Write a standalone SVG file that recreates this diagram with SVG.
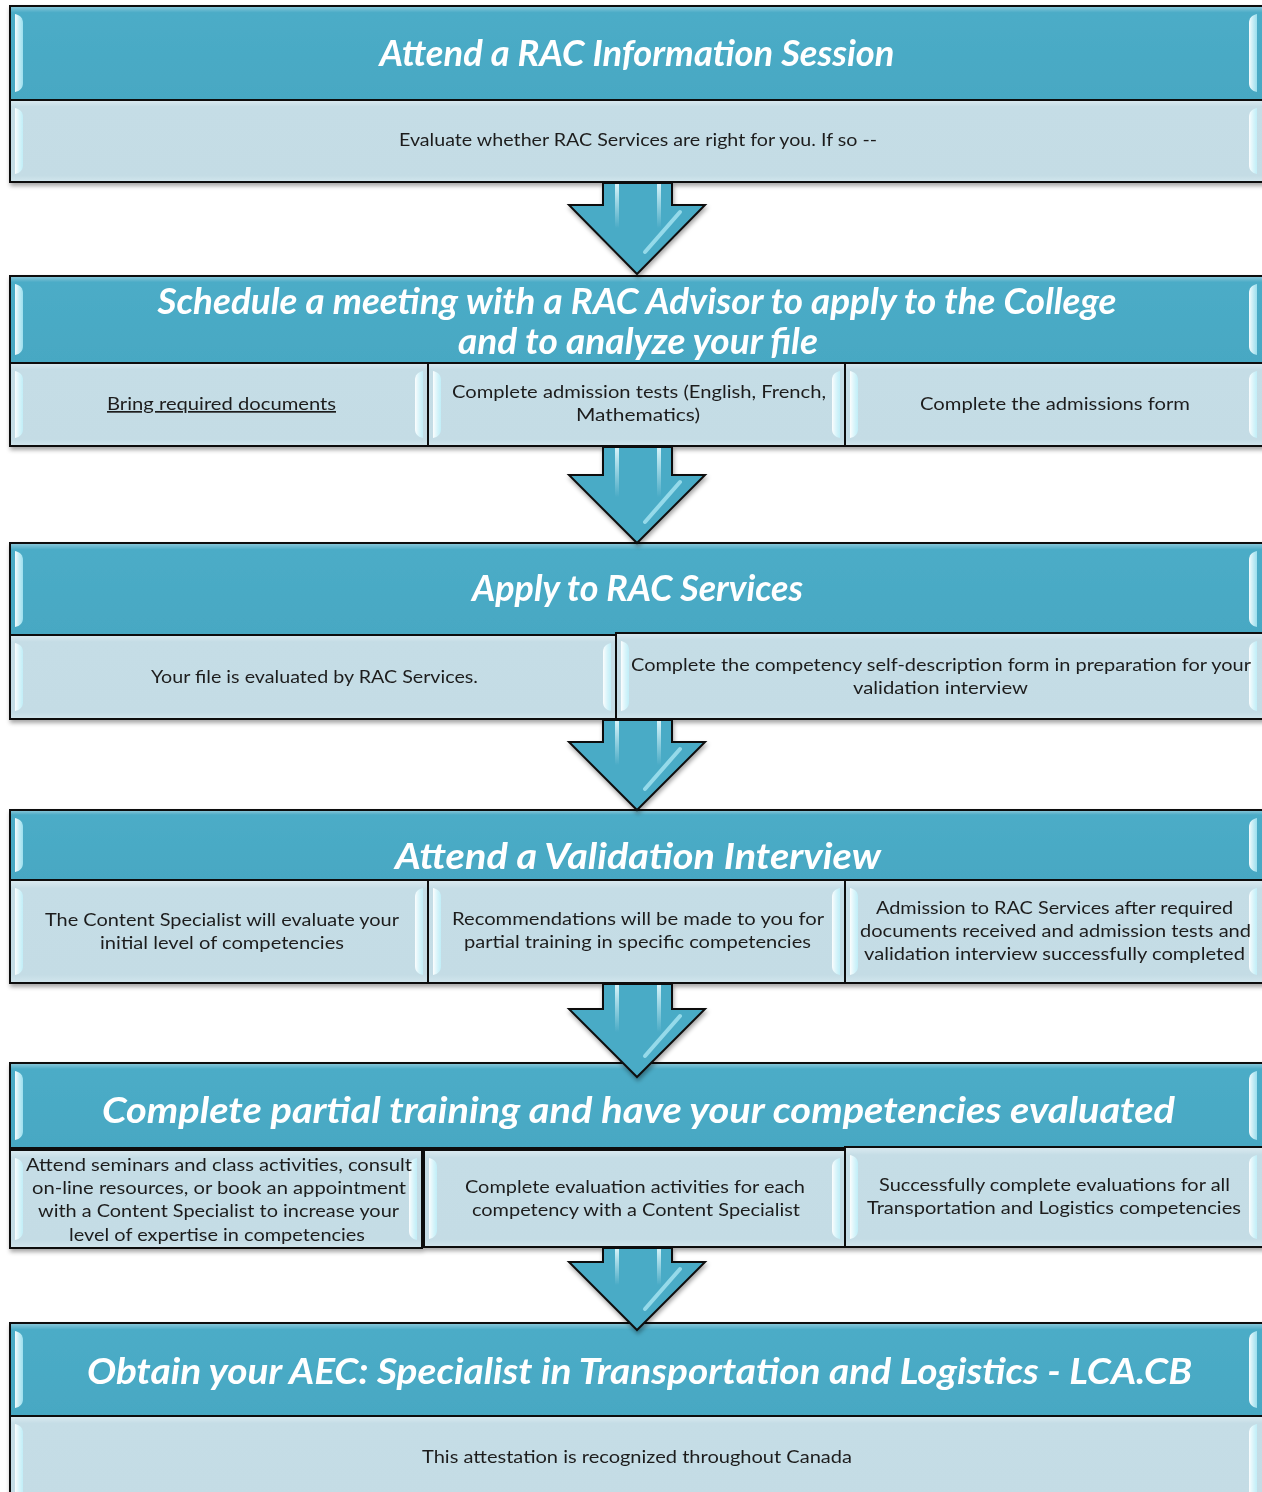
<svg xmlns="http://www.w3.org/2000/svg" width="1262" height="1492" viewBox="0 0 1262 1492">
<defs>
<linearGradient id="gH" x1="0" y1="0" x2="0" y2="1">
<stop offset="0" stop-color="#8fcadb"/><stop offset="0.07" stop-color="#4cacc7"/><stop offset="1" stop-color="#47a8c3"/>
</linearGradient>
<linearGradient id="gB" x1="0" y1="0" x2="0" y2="1">
<stop offset="0" stop-color="#dcebf1"/><stop offset="0.08" stop-color="#c5dde6"/><stop offset="0.92" stop-color="#c4dce5"/><stop offset="1" stop-color="#d2e6ed"/>
</linearGradient>
<linearGradient id="gHl" x1="0" y1="0" x2="1" y2="0">
<stop offset="0" stop-color="#ffffff" stop-opacity="0.95"/><stop offset="1" stop-color="#bff5ff" stop-opacity="0.7"/>
</linearGradient>
<linearGradient id="gShine" x1="0" y1="0" x2="0" y2="1">
<stop offset="0" stop-color="#e6fbff" stop-opacity="0.9"/><stop offset="1" stop-color="#e6fbff" stop-opacity="0"/>
</linearGradient>
<filter id="sh" x="-5%" y="-20%" width="110%" height="140%">
<feDropShadow dx="1" dy="3" stdDeviation="2" flood-color="#000" flood-opacity="0.35"/>
</filter>
<style>
.hdr{fill:url(#gH);stroke:#111;stroke-width:2}
.bd{fill:url(#gB);stroke:#111;stroke-width:2}
.hl{fill:url(#gHl)}
.ht{font-family:Lato,"Open Sans","DejaVu Sans",sans-serif;font-weight:bold;font-style:italic;fill:#fff;font-size:36px;text-anchor:middle}
.bt{font-family:Lato,"Open Sans","DejaVu Sans",sans-serif;font-size:17px;fill:#1e1e1e;text-anchor:middle}
.arr{fill:#4aabc6;stroke:#111;stroke-width:2;stroke-linejoin:miter}
.shine{fill:none;stroke:url(#gShine);stroke-width:4}
.dshine{fill:none;stroke:#a8e6f3;stroke-opacity:0.8;stroke-width:4;stroke-linecap:round}
</style>
</defs>
<rect width="1262" height="1492" fill="#fff"/>

<g id="n1" filter="url(#sh)">
<rect class="hdr" x="10" y="6" width="1256" height="94"/>
<rect class="bd" x="10" y="100" width="1256" height="82"/>
<path class="hl" d="M15,14 C20,15 23,18 23,23 L23,83 C23,88 20,91 15,92 Z"/>
<path class="hl" d="M1257,14 C1252,15 1249,18 1249,23 L1249,83 C1249,88 1252,91 1257,92 Z"/>
<path class="hl" d="M15,108 C20,109 23,112 23,117 L23,165 C23,170 20,173 15,174 Z"/>
<path class="hl" d="M1257,108 C1252,109 1249,112 1249,117 L1249,165 C1249,170 1252,173 1257,174 Z"/>
<text class="ht" x="637" y="66" textLength="515" lengthAdjust="spacingAndGlyphs">Attend a RAC Information Session</text>
<text class="bt" x="638" y="146" textLength="478" lengthAdjust="spacingAndGlyphs">Evaluate whether RAC Services are right for you. If so --</text>
</g>

<g id="n2" filter="url(#sh)">
<rect class="hdr" x="10" y="276" width="1256" height="87"/>
<rect class="bd" x="10" y="363" width="418" height="83"/>
<rect class="bd" x="428" y="363" width="417" height="83"/>
<rect class="bd" x="845" y="363" width="421" height="83"/>
<path class="hl" d="M15,284 C20,285 23,288 23,293 L23,346 C23,351 20,354 15,355 Z"/>
<path class="hl" d="M1257,284 C1252,285 1249,288 1249,293 L1249,346 C1249,351 1252,354 1257,355 Z"/>
<path class="hl" d="M15,371 C20,372 23,375 23,380 L23,429 C23,434 20,437 15,438 Z"/>
<path class="hl" d="M423,371 C418,372 415,375 415,380 L415,429 C415,434 418,437 423,438 Z"/>
<path class="hl" d="M433,371 C438,372 441,375 441,380 L441,429 C441,434 438,437 433,438 Z"/>
<path class="hl" d="M840,371 C835,372 832,375 832,380 L832,429 C832,434 835,437 840,438 Z"/>
<path class="hl" d="M850,371 C855,372 858,375 858,380 L858,429 C858,434 855,437 850,438 Z"/>
<path class="hl" d="M1257,371 C1252,372 1249,375 1249,380 L1249,429 C1249,434 1252,437 1257,438 Z"/>
<text class="ht" x="637" y="314" textLength="959" lengthAdjust="spacingAndGlyphs">Schedule a meeting with a RAC Advisor to apply to the College</text>
<text class="ht" x="638" y="354" textLength="360" lengthAdjust="spacingAndGlyphs">and to analyze your file</text>
<text class="bt" x="221.5" y="410" textLength="229" lengthAdjust="spacingAndGlyphs" text-decoration="underline">Bring required documents</text>
<text class="bt" x="639" y="398" textLength="374" lengthAdjust="spacingAndGlyphs">Complete admission tests (English, French,</text>
<text class="bt" x="638" y="421" textLength="124" lengthAdjust="spacingAndGlyphs">Mathematics)</text>
<text class="bt" x="1055" y="410" textLength="270" lengthAdjust="spacingAndGlyphs">Complete the admissions form</text>
</g>

<g id="n3" filter="url(#sh)">
<rect class="hdr" x="10" y="543" width="1256" height="92"/>
<rect class="bd" x="10" y="635" width="606" height="84"/>
<rect class="bd" x="616" y="633" width="650" height="86"/>
<path class="hl" d="M15,551 C20,552 23,555 23,560 L23,618 C23,623 20,626 15,627 Z"/>
<path class="hl" d="M1257,551 C1252,552 1249,555 1249,560 L1249,618 C1249,623 1252,626 1257,627 Z"/>
<path class="hl" d="M15,643 C20,644 23,647 23,652 L23,702 C23,707 20,710 15,711 Z"/>
<path class="hl" d="M611,643 C606,644 603,647 603,652 L603,702 C603,707 606,710 611,711 Z"/>
<path class="hl" d="M621,641 C626,642 629,645 629,650 L629,702 C629,707 626,710 621,711 Z"/>
<path class="hl" d="M1257,641 C1252,642 1249,645 1249,650 L1249,702 C1249,707 1252,710 1257,711 Z"/>
<text class="ht" x="637.5" y="601" textLength="331" lengthAdjust="spacingAndGlyphs">Apply to RAC Services</text>
<text class="bt" x="314.5" y="683" textLength="327" lengthAdjust="spacingAndGlyphs">Your file is evaluated by RAC Services.</text>
<text class="bt" x="941" y="671" textLength="620" lengthAdjust="spacingAndGlyphs">Complete the competency self-description form in preparation for your</text>
<text class="bt" x="940.5" y="694" textLength="175" lengthAdjust="spacingAndGlyphs">validation interview</text>
</g>

<g id="n4" filter="url(#sh)">
<rect class="hdr" x="10" y="810" width="1256" height="70"/>
<rect class="bd" x="10" y="880" width="418" height="103"/>
<rect class="bd" x="428" y="880" width="417" height="103"/>
<rect class="bd" x="845" y="880" width="421" height="103"/>
<path class="hl" d="M15,818 C20,819 23,822 23,827 L23,863 C23,868 20,871 15,872 Z"/>
<path class="hl" d="M1257,818 C1252,819 1249,822 1249,827 L1249,863 C1249,868 1252,871 1257,872 Z"/>
<path class="hl" d="M15,888 C20,889 23,892 23,897 L23,966 C23,971 20,974 15,975 Z"/>
<path class="hl" d="M423,888 C418,889 415,892 415,897 L415,966 C415,971 418,974 423,975 Z"/>
<path class="hl" d="M433,888 C438,889 441,892 441,897 L441,966 C441,971 438,974 433,975 Z"/>
<path class="hl" d="M840,888 C835,889 832,892 832,897 L832,966 C832,971 835,974 840,975 Z"/>
<path class="hl" d="M850,888 C855,889 858,892 858,897 L858,966 C858,971 855,974 850,975 Z"/>
<path class="hl" d="M1257,888 C1252,889 1249,892 1249,897 L1249,966 C1249,971 1252,974 1257,975 Z"/>
<text class="ht" x="638" y="869" textLength="486" lengthAdjust="spacingAndGlyphs">Attend a Validation Interview</text>
<text class="bt" x="222" y="926" textLength="354" lengthAdjust="spacingAndGlyphs">The Content Specialist will evaluate your</text>
<text class="bt" x="222" y="949" textLength="244" lengthAdjust="spacingAndGlyphs">initial level of competencies</text>
<text class="bt" x="638" y="925" textLength="372" lengthAdjust="spacingAndGlyphs">Recommendations will be made to you for</text>
<text class="bt" x="637.5" y="948" textLength="347" lengthAdjust="spacingAndGlyphs">partial training in specific competencies</text>
<text class="bt" x="1054.5" y="914" textLength="357" lengthAdjust="spacingAndGlyphs">Admission to RAC Services after required</text>
<text class="bt" x="1055.5" y="937" textLength="391" lengthAdjust="spacingAndGlyphs">documents received and admission tests and</text>
<text class="bt" x="1054.5" y="960" textLength="381" lengthAdjust="spacingAndGlyphs">validation interview successfully completed</text>
</g>

<g id="n5" filter="url(#sh)">
<rect class="hdr" x="10" y="1063" width="1256" height="85"/>
<rect class="bd" x="10" y="1150" width="412" height="98"/>
<rect class="bd" x="424" y="1150" width="421" height="97"/>
<rect class="bd" x="845" y="1147" width="421" height="100"/>
<path class="hl" d="M15,1071 C20,1072 23,1075 23,1080 L23,1131 C23,1136 20,1139 15,1140 Z"/>
<path class="hl" d="M1257,1071 C1252,1072 1249,1075 1249,1080 L1249,1131 C1249,1136 1252,1139 1257,1140 Z"/>
<path class="hl" d="M15,1158 C20,1159 23,1162 23,1167 L23,1231 C23,1236 20,1239 15,1240 Z"/>
<path class="hl" d="M417,1158 C412,1159 409,1162 409,1167 L409,1231 C409,1236 412,1239 417,1240 Z"/>
<path class="hl" d="M429,1158 C434,1159 437,1162 437,1167 L437,1230 C437,1235 434,1238 429,1239 Z"/>
<path class="hl" d="M840,1158 C835,1159 832,1162 832,1167 L832,1230 C832,1235 835,1238 840,1239 Z"/>
<path class="hl" d="M850,1155 C855,1156 858,1159 858,1164 L858,1230 C858,1235 855,1238 850,1239 Z"/>
<path class="hl" d="M1257,1155 C1252,1156 1249,1159 1249,1164 L1249,1230 C1249,1235 1252,1238 1257,1239 Z"/>
<text class="ht" x="638.5" y="1123" textLength="1073" lengthAdjust="spacingAndGlyphs">Complete partial training and have your competencies evaluated</text>
<text class="bt" x="219" y="1171" textLength="386" lengthAdjust="spacingAndGlyphs">Attend seminars and class activities, consult</text>
<text class="bt" x="219" y="1194" textLength="374" lengthAdjust="spacingAndGlyphs">on-line resources, or book an appointment</text>
<text class="bt" x="218.5" y="1217" textLength="361" lengthAdjust="spacingAndGlyphs">with a Content Specialist to increase your</text>
<text class="bt" x="217" y="1241" textLength="296" lengthAdjust="spacingAndGlyphs">level of expertise in competencies</text>
<text class="bt" x="635" y="1193" textLength="340" lengthAdjust="spacingAndGlyphs">Complete evaluation activities for each</text>
<text class="bt" x="636" y="1216" textLength="328" lengthAdjust="spacingAndGlyphs">competency with a Content Specialist</text>
<text class="bt" x="1054.5" y="1191" textLength="351" lengthAdjust="spacingAndGlyphs">Successfully complete evaluations for all</text>
<text class="bt" x="1054" y="1214" textLength="374" lengthAdjust="spacingAndGlyphs">Transportation and Logistics competencies</text>
</g>

<g id="n6" filter="url(#sh)">
<rect class="hdr" x="10" y="1323" width="1256" height="93"/>
<rect class="bd" x="10" y="1416" width="1256" height="90"/>
<path class="hl" d="M15,1331 C20,1332 23,1335 23,1340 L23,1399 C23,1404 20,1407 15,1408 Z"/>
<path class="hl" d="M1257,1331 C1252,1332 1249,1335 1249,1340 L1249,1399 C1249,1404 1252,1407 1257,1408 Z"/>
<path class="hl" d="M15,1424 C20,1425 23,1428 23,1433 L23,1500 L15,1500 Z"/>
<path class="hl" d="M1257,1424 C1252,1425 1249,1428 1249,1433 L1249,1500 L1257,1500 Z"/>
<text class="ht" x="639.5" y="1384" textLength="1105" lengthAdjust="spacingAndGlyphs">Obtain your AEC: Specialist in Transportation and Logistics - LCA.CB</text>
<text class="bt" x="637" y="1463" textLength="430" lengthAdjust="spacingAndGlyphs">This attestation is recognized throughout Canada</text>
</g>

<g id="connectors" filter="url(#sh)">
<g>
<path class="arr" d="M603,183 L603,205 L569,205 L637,274 L705,205 L672,205 L672,183 Z"/>
<path class="shine" d="M617,184 L617,228 M659,184 L659,228"/>
<path class="dshine" d="M680,212 L645,252"/>
</g>
<g>
<path class="arr" d="M603,447 L603,475 L569,475 L637,543 L705,475 L672,475 L672,447 Z"/>
<path class="shine" d="M617,448 L617,497 M659,448 L659,497"/>
<path class="dshine" d="M680,482 L645,522"/>
</g>
<g>
<path class="arr" d="M603,720 L603,742 L569,742 L637,810 L705,742 L672,742 L672,720 Z"/>
<path class="shine" d="M617,721 L617,765 M659,721 L659,765"/>
<path class="dshine" d="M680,749 L645,789"/>
</g>
<g>
<path class="arr" d="M603,984 L603,1009 L569,1009 L637,1077 L705,1009 L672,1009 L672,984 Z"/>
<path class="shine" d="M617,985 L617,1032 M659,985 L659,1032"/>
<path class="dshine" d="M680,1016 L645,1056"/>
</g>
<g>
<path class="arr" d="M603,1248 L603,1262 L569,1262 L637,1330 L705,1262 L672,1262 L672,1248 Z"/>
<path class="shine" d="M617,1249 L617,1285 M659,1249 L659,1285"/>
<path class="dshine" d="M680,1269 L645,1309"/>
</g>
</g>
</svg>
